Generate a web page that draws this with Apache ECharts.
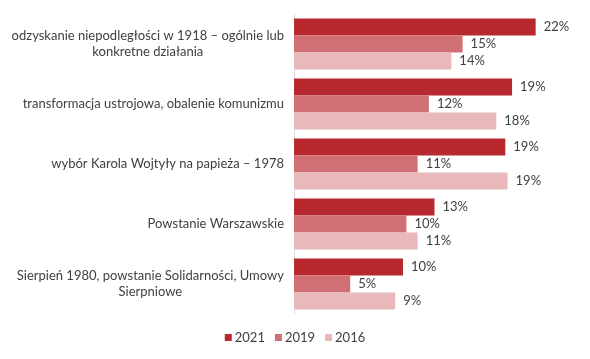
<!DOCTYPE html>
<html><head><meta charset="utf-8">
<script src="https://cdn.jsdelivr.net/npm/echarts@6/dist/echarts.min.js"></script>
<style>html,body{margin:0;padding:0;background:#fff}#c{width:590px;height:359px}</style>
</head><body><div id="c"></div>
<script>
var categories = [
  "odzyskanie niepodległości w 1918 – ogólnie lub\nkonkretne działania",
  "transformacja ustrojowa, obalenie komunizmu",
  "wybór Karola Wojtyły na papieża – 1978",
  "Powstanie Warszawskie",
  "Sierpień 1980, powstanie Solidarności, Umowy\nSierpniowe"
];
var seriesNames = ["2021", "2019", "2016"];
var values2021 = [21.5, 19.4, 18.8, 12.5, 9.7];
var values2019 = [15, 12, 11, 10, 5];
var values2016 = [14, 18, 19, 11, 9];
var colors = ["#B7292F", "#D07074", "#E8B8BA"];

var FONT = "Lato";
var chart = echarts.init(document.getElementById('c'));
function mk(name, data, color) {
  return {
    name: name, type: 'bar', data: data, barGap: '0%', barCategoryGap: '15%',
    itemStyle: { color: color },
    label: { show: true, position: 'right', distance: 8, color: '#404040', fontFamily: FONT, fontSize: 13,
      formatter: function (p) { return Math.round(p.value) + '%'; } }
  };
}
chart.setOption({
  animation: false,
  textStyle: { fontFamily: FONT },
  grid: { left: 294, right: 15, top: 14, bottom: 45, containLabel: false },
  legend: {
    bottom: 10, left: 'center', itemWidth: 7, itemHeight: 7, itemGap: 10,
    icon: 'rect', textStyle: { color: '#404040', fontFamily: FONT, fontSize: 13, padding: [0, 0, 0, -2] },
    data: seriesNames
  },
  xAxis: { type: 'value', min: 0, max: 25, show: false },
  yAxis: {
    type: 'category', data: categories, inverse: true,
    axisLine: { show: true, lineStyle: { color: '#D9D9D9' } },
    axisTick: { show: false },
    axisLabel: {
      margin: 10, color: '#404040', fontFamily: FONT, fontSize: 13, lineHeight: 16,
      formatter: function (v) { return v.split('\n').map(function (l) { return '{c|' + l + '}'; }).join('\n'); },
      rich: { c: { align: 'center', color: '#404040', fontFamily: FONT, fontSize: 13, lineHeight: 16 } }
    }
  },
  series: [mk(seriesNames[0], values2021, colors[0]), mk(seriesNames[1], values2019, colors[1]), mk(seriesNames[2], values2016, colors[2])]
});
</script></body></html>
